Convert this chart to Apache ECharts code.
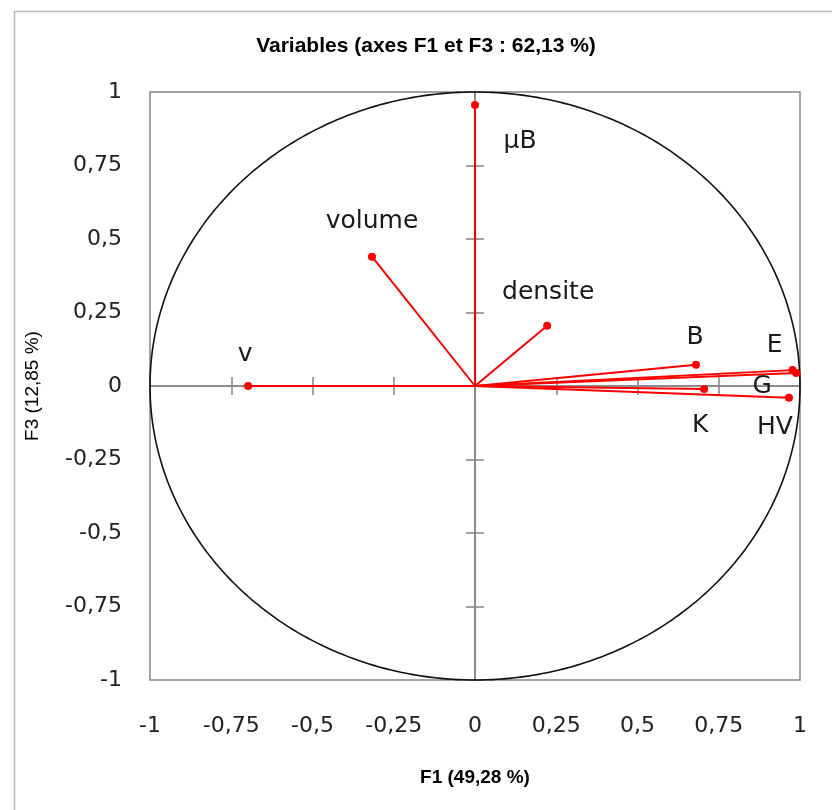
<!DOCTYPE html>
<html><head><meta charset="utf-8">
<script src="https://cdn.jsdelivr.net/npm/echarts@6/dist/echarts.min.js"></script>
<style>html,body{margin:0;padding:0;background:#fff}#c{width:832px;height:810px}</style>
</head><body><div id="c"></div>
<script>
// ---- data ----
const variableNames = ['v', 'µB', 'volume', 'densite', 'B', 'E', 'G', 'K', 'HV'];
const f1Values = [-0.698, 0.000, -0.317, 0.222, 0.680, 0.977, 0.988, 0.705, 0.966];
const f3Values = [0.000, 0.956, 0.440, 0.205, 0.072, 0.054, 0.044, -0.010, -0.040];
const tickValues = [-1, -0.75, -0.5, -0.25, 0, 0.25, 0.5, 0.75, 1];
const tickLabels = ['-1', '-0,75', '-0,5', '-0,25', '0', '0,25', '0,5', '0,75', '1'];
const titleText = 'Variables (axes F1 et F3 : 62,13 %)';
const xAxisTitle = 'F1 (49,28 %)';
const yAxisTitle = 'F3 (12,85 %)';

// ---- layout (label placement relative to the point, in px) ----
const labelOffsets = {
  'v': [-3, -32], 'µB': [45, 37], 'volume': [0, -35], 'densite': [1, -33],
  'B': [-1, -27], 'E': [-18, -25], 'G': [-34, 13], 'K': [-4, 37], 'HV': [-14, 30]
};

function tickFmt(v) {
  const i = tickValues.findIndex(t => Math.abs(t - v) < 1e-9);
  return i >= 0 ? tickLabels[i] : '';
}

const axisGray = '#858585';
const baseAxis = { type: 'value', min: -1, max: 1, interval: 0.25, splitLine: { show: false } };

function crossAxis(pos, inside) {
  return Object.assign({}, baseAxis, {
    position: pos,
    z: 0,
    axisLine: { show: true, onZero: true, onZeroAxisIndex: 0, lineStyle: { color: axisGray, width: 1.5 } },
    axisTick: { show: true, inside: inside, length: 9, lineStyle: { color: axisGray, width: 1.5 } },
    axisLabel: { show: false }
  });
}

const chart = echarts.init(document.getElementById('c'), null, { renderer: 'canvas' });

const vectorSeries = variableNames.map((name, i) => ({
  type: 'line',
  name: name,
  xAxisIndex: 0, yAxisIndex: 0,
  z: 4,
  animation: false,
  silent: true,
  symbol: 'circle',
  symbolSize: 8,
  showSymbol: true,
  lineStyle: { color: '#ff0000', width: 2 },
  itemStyle: { color: '#ff0000' },
  label: { show: false },
  data: [
    { value: [0, 0], symbolSize: 0 },
    {
      value: [f1Values[i], f3Values[i]],
      label: {
        show: true, position: 'inside', offset: labelOffsets[name],
        formatter: name, fontFamily: 'DejaVu Sans', fontSize: 25, color: '#1a1a1a'
      }
    }
  ]
}));

chart.setOption({
  backgroundColor: '#ffffff',
  animation: false,
  title: {
    text: titleText, left: 421, top: 31, textAlign: 'center',
    textStyle: { fontFamily: 'Liberation Sans', fontWeight: 'bold', fontSize: 21, color: '#000' }
  },
  graphic: [{
    type: 'rect', left: 12, top: 9, silent: true,
    shape: { width: 1000, height: 1000 },
    style: { fill: null, stroke: '#b8b8b8', lineWidth: 1.5 }
  }],
  grid: { left: 150, right: 32, top: 92, bottom: 130, show: true, borderColor: axisGray, borderWidth: 1.5, containLabel: false },
  xAxis: [
    Object.assign({}, baseAxis, {
      position: 'bottom',
      axisLine: { show: false, onZero: false },
      axisTick: { show: false },
      axisLabel: { formatter: tickFmt, margin: 35, fontFamily: 'DejaVu Sans', fontSize: 22, color: '#222' },
      name: xAxisTitle, nameLocation: 'middle', nameGap: 88,
      nameTextStyle: { fontFamily: 'Liberation Sans', fontWeight: 'bold', fontSize: 19, color: '#000' }
    }),
    crossAxis('bottom', true),
    crossAxis('bottom', false)
  ],
  yAxis: [
    Object.assign({}, baseAxis, {
      position: 'left',
      axisLine: { show: false, onZero: false },
      axisTick: { show: false },
      axisLabel: { formatter: tickFmt, margin: 28, fontFamily: 'DejaVu Sans', fontSize: 22, color: '#222' },
      name: yAxisTitle, nameLocation: 'middle', nameGap: 108, nameRotate: 90,
      nameTextStyle: { fontFamily: 'Liberation Sans', fontSize: 19, color: '#000' }
    }),
    crossAxis('left', true),
    crossAxis('left', false)
  ],
  series: [{
    type: 'custom',
    xAxisIndex: 0, yAxisIndex: 0,
    z: 2, silent: true, animation: false,
    data: [[0, 0]],
    renderItem: function (params, api) {
      const pts = [];
      for (let k = 0; k <= 360; k++) {
        const a = k * Math.PI / 180;
        pts.push(api.coord([Math.cos(a), Math.sin(a)]));
      }
      return { type: 'polyline', shape: { points: pts }, style: { stroke: '#111', lineWidth: 1.6, fill: null } };
    }
  }].concat(vectorSeries)
});
</script>
</body></html>
